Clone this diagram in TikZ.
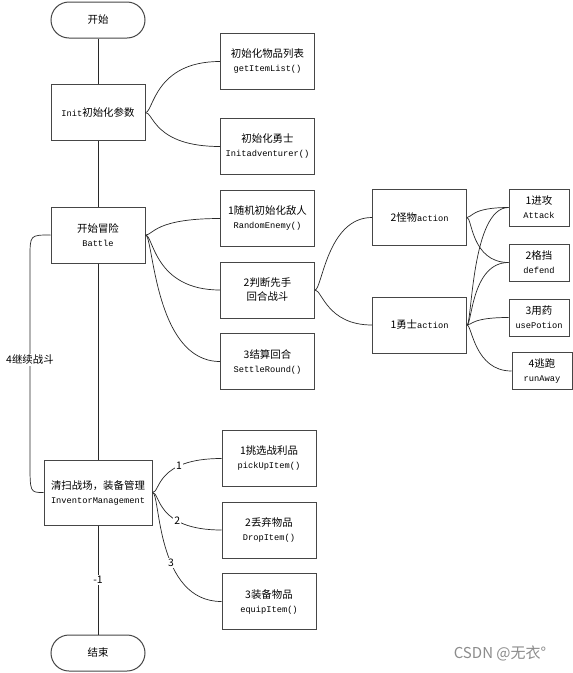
\documentclass[tikz,border=0pt]{standalone}
\usepackage{fontspec}
\setmainfont{Liberation Mono}
\newfontfamily\cjk[Scale=1.2]{Noto Sans CJK SC}
\newfontfamily\wmfont{Noto Sans CJK SC}
\newcommand{\zh}[1]{{\cjk #1}}
\usetikzlibrary{positioning}
\definecolor{linegray}{RGB}{40,40,40}
\definecolor{boxgray}{RGB}{70,70,70}

\begin{document}
\begin{tikzpicture}[x=1pt,y=-1pt,
    box/.style={draw=boxgray, line width=1pt, fill=white, align=center,
        minimum width=94pt, minimum height=56pt, inner sep=1pt,
        font=\fontsize{8.7}{14}\selectfont},
    term/.style={box, rounded corners=18pt, minimum height=36pt},
    small/.style={box, minimum width=60pt, minimum height=37pt},
    link/.style={draw=linegray, line width=0.7pt},
    wide/.style={out=0, in=180, out distance=8pt, in distance=66pt},
    mid/.style={out=0, in=180, out distance=7pt, in distance=45pt},
    narrow/.style={out=0, in=180, out distance=5pt, in distance=37pt},
    tag/.style={fill=white, inner sep=1pt, font=\cjk\fontsize{8.7}{10}\selectfont}
]
    \path[fill=white, use as bounding box] (0,0) rectangle (573,673);

    % Main flow
    \node[term] (start) at (98,20) {\zh{开始}};
    \node[box] (init) at (98,112.5) {Init\zh{初始化参数}};
    \node[box] (battle) at (98,235) {\zh{开始冒险}\\Battle};
    \node[box, minimum width=108pt, minimum height=65pt] (inv) at (98,492.5)
        {\zh{清扫战场，装备管理}\\InventorManagement};
    \node[term] (stop) at (98,653) {\zh{结束}};

    % First column
    \node[box] (items) at (267.5,61.5) {\zh{初始化物品列表}\\getItemList()};
    \node[box] (hero) at (267.5,146.5) {\zh{初始化勇士}\\Initadventurer()};
    \node[box] (enemy) at (267.5,218.5) {\zh{1随机初始化敌人}\\RandomEnemy()};
    \node[box] (round) at (267.5,290) {\zh{2判断先手}\\\zh{回合战斗}};
    \node[box] (settle) at (267.5,361.5) {\zh{3结算回合}\\SettleRound()};
    \node[box] (pick) at (269,458.5) {\zh{1挑选战利品}\\pickUpItem()};
    \node[box] (drop) at (269,530) {\zh{2丢弃物品}\\DropItem()};
    \node[box] (equip) at (269,601.5) {\zh{3装备物品}\\equipItem()};

    % Actions
    \node[box] (monster) at (419.5,217.5) {\zh{2怪物}action};
    \node[box] (warrior) at (419.5,325) {\zh{1勇士}action};
    \node[small] (attack) at (539,207.5) {\zh{1进攻}\\Attack};
    \node[small] (defend) at (539,262.5) {\zh{2格挡}\\defend};
    \node[small] (potion) at (539,317.5) {\zh{3用药}\\usePotion};
    \node[small] (flee) at (542,371) {\zh{4逃跑}\\runAway};

    % Straight links
    \draw[link] (start) -- (init);
    \draw[link] (init) -- (battle);
    \draw[link] (battle) -- (inv);
    \draw[link] (inv) -- node[tag]{-1} (stop);

    % Loop back
    \coordinate (loopb) at (30,462);
    \coordinate (loopt) at (30,258);
    \draw[link] (inv.west) .. controls (30,492.5) .. (loopb)
        -- node[tag, font=\cjk\fontsize{8.7}{10}\selectfont]{4继续战斗} (loopt)
        .. controls (30,235) .. (battle.west);

    % Branches
    \draw[link] (init.east) to[wide] (items.west);
    \draw[link] (init.east) to[wide] (hero.west);
    \draw[link] (battle.east) to[wide] (enemy.west);
    \draw[link] (battle.east) to[wide] (round.west);
    \draw[link] (battle.east) to[wide] (settle.west);
    \draw[link] (inv.east) to[wide] node[tag, pos=0.7]{1} (pick.west);
    \draw[link] (inv.east) to[wide] node[tag, pos=0.68]{2} (drop.west);
    \draw[link] (inv.east) to[wide] node[tag, pos=0.6]{3} (equip.west);
    \draw[link] (round.east) to[mid] (monster.west);
    \draw[link] (round.east) to[mid] (warrior.west);
    \draw[link] (monster.east) to[narrow] (attack.west);
    \draw[link] (monster.east) to[narrow] (defend.west);
    \foreach \t in {attack,defend,potion,flee}
        \draw[link] (warrior.east) to[narrow] (\t.west);

    \node[text=black!45, font=\wmfont\fontsize{15}{15}\selectfont] (mark) at (500,653)
        {CSDN @无衣°};
\end{tikzpicture}
\end{document}
